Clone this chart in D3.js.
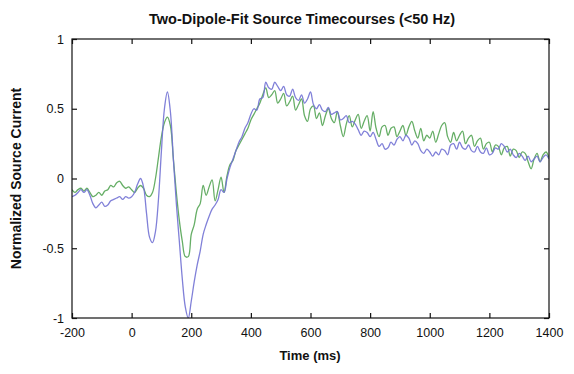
<!DOCTYPE html>
<html><head><meta charset="utf-8">
<script src="https://cdn.jsdelivr.net/npm/d3@7"></script>
<style>body{margin:0;background:#fff}svg{display:block}text{font-family:"Liberation Sans",Arial,sans-serif;fill:#111}</style>
</head><body><svg id="c" width="574" height="374"></svg>
<script>
const title = "Two-Dipole-Fit Source Timecourses (<50 Hz)";
const xLabel = "Time (ms)";
const yLabel = "Normalized Source Current";
const xTicks = [-200, 0, 200, 400, 600, 800, 1000, 1200, 1400];
const yTicks = [-1, -0.5, 0, 0.5, 1];
const yTickLabels = ["-1", "-0.5", "0", "0.5", "1"];
const tStart = -200, tStep = 10;
const blue = [
-0.13,-0.12,-0.10,-0.08,-0.10,-0.08,-0.12,-0.18,-0.21,-0.19,
-0.17,-0.20,-0.19,-0.16,-0.15,-0.14,-0.13,-0.15,-0.13,-0.14,
-0.13,-0.10,-0.04,0.00,-0.06,-0.25,-0.42,-0.46,-0.38,-0.15,
0.20,0.50,0.62,0.48,0.14,-0.18,-0.45,-0.72,-0.92,-1.00,
-0.88,-0.74,-0.62,-0.52,-0.40,-0.33,-0.27,-0.22,-0.19,-0.15,
-0.08,-0.10,0.00,0.08,0.14,0.20,0.26,0.30,0.36,0.40,
0.46,0.50,0.49,0.57,0.58,0.69,0.65,0.64,0.69,0.66,
0.63,0.66,0.60,0.59,0.64,0.58,0.56,0.60,0.54,0.57,
0.62,0.53,0.50,0.53,0.49,0.48,0.51,0.46,0.47,0.48,
0.42,0.43,0.45,0.40,0.41,0.39,0.35,0.31,0.34,0.33,
0.30,0.33,0.28,0.23,0.25,0.21,0.22,0.26,0.24,0.28,
0.30,0.27,0.31,0.29,0.24,0.27,0.25,0.20,0.18,0.21,
0.19,0.16,0.19,0.17,0.21,0.20,0.17,0.24,0.25,0.21,
0.26,0.22,0.21,0.24,0.20,0.19,0.23,0.19,0.18,0.22,
0.17,0.18,0.22,0.21,0.25,0.23,0.19,0.21,0.17,0.15,
0.18,0.16,0.13,0.16,0.12,0.14,0.16,0.12,0.15,0.17,
0.14];
const green = [
-0.08,-0.10,-0.08,-0.07,-0.09,-0.07,-0.10,-0.13,-0.12,-0.10,
-0.12,-0.09,-0.08,-0.05,-0.06,-0.03,-0.02,-0.05,-0.07,-0.06,
-0.08,-0.10,-0.07,-0.05,-0.07,-0.12,-0.13,-0.10,0.00,0.15,
0.30,0.40,0.44,0.38,0.14,-0.10,-0.30,-0.45,-0.56,-0.56,
-0.40,-0.33,-0.22,-0.18,-0.05,-0.12,-0.06,-0.01,-0.16,-0.08,
0.01,-0.10,0.02,0.10,0.13,0.20,0.24,0.28,0.32,0.36,
0.42,0.46,0.50,0.54,0.60,0.65,0.58,0.60,0.63,0.54,
0.57,0.61,0.52,0.55,0.59,0.49,0.53,0.57,0.45,0.41,
0.50,0.52,0.43,0.47,0.38,0.45,0.50,0.43,0.40,0.48,
0.38,0.30,0.39,0.45,0.37,0.42,0.46,0.36,0.41,0.45,
0.34,0.48,0.36,0.30,0.37,0.38,0.31,0.36,0.37,0.30,
0.34,0.38,0.31,0.37,0.41,0.34,0.29,0.36,0.27,0.31,
0.29,0.34,0.26,0.32,0.38,0.40,0.30,0.26,0.33,0.27,
0.31,0.34,0.25,0.29,0.31,0.23,0.27,0.29,0.21,0.25,
0.26,0.19,0.24,0.23,0.17,0.22,0.23,0.16,0.21,0.20,
0.15,0.19,0.18,0.12,0.07,0.14,0.18,0.12,0.17,0.19,
0.15];
const time = d3.range(blue.length).map(i => tStart + i * tStep);

const svg = d3.select("#c");
const m = {l:72, r:25, t:39, b:56};
const W = 574, H = 374;
const x = d3.scaleLinear().domain([-200, 1400]).range([m.l, W - m.r]);
const y = d3.scaleLinear().domain([-1, 1]).range([H - m.b, m.t]);

svg.append("clipPath").attr("id","cp").append("rect")
  .attr("x", m.l).attr("y", m.t).attr("width", W-m.r-m.l).attr("height", H-m.b-m.t);

const line = d3.line().x((d,i)=>x(time[i])).y(d=>y(d)).curve(d3.curveCatmullRom.alpha(0.5));
const g = svg.append("g").attr("clip-path","url(#cp)");
g.append("path").datum(green).attr("d", line).attr("fill","none")
  .attr("stroke","#66ae66").attr("stroke-width",1.3).attr("stroke-linejoin","round");
g.append("path").datum(blue).attr("d", line).attr("fill","none")
  .attr("stroke","#7272d4").attr("stroke-width",1.3).attr("stroke-linejoin","round").attr("opacity",0.9);

// axes (MATLAB style, inward ticks, mirrored)
const tk = 5;
svg.append("rect").attr("x", m.l).attr("y", m.t).attr("width", W-m.r-m.l).attr("height", H-m.b-m.t)
  .attr("fill","none").attr("stroke","#111").attr("stroke-width",1.2);
const fmt = d => String(d);
const xb = svg.append("g").attr("transform",`translate(0,${H-m.b})`)
  .call(d3.axisBottom(x).tickValues(xTicks).tickSize(-tk).tickPadding(10).tickFormat(fmt));
const xt = svg.append("g").attr("transform",`translate(0,${m.t})`)
  .call(d3.axisTop(x).tickValues(xTicks).tickSize(-tk).tickFormat(""));
const yl = svg.append("g").attr("transform",`translate(${m.l},0)`)
  .call(d3.axisLeft(y).tickValues(yTicks).tickSize(-tk).tickPadding(8).tickFormat((d,i)=>yTickLabels[i]));
const yr = svg.append("g").attr("transform",`translate(${W-m.r},0)`)
  .call(d3.axisRight(y).tickValues(yTicks).tickSize(-tk).tickFormat(""));
[xb,xt,yl,yr].forEach(a=>{a.select(".domain").remove();a.selectAll("line").attr("stroke","#111").attr("stroke-width",1.2);
  a.selectAll("text").attr("font-size",12.5).attr("fill","#111").attr("font-family","Liberation Sans, Arial, sans-serif");});

svg.append("text").attr("x", 302).attr("y", 24).attr("text-anchor","middle")
  .attr("font-size",14.5).attr("font-weight","bold").text(title);
svg.append("text").attr("x", 310).attr("y", 360).attr("text-anchor","middle")
  .attr("font-size",13).attr("font-weight","bold").text(xLabel);
svg.append("text").attr("transform",`translate(21,${(m.t + H - m.b)/2}) rotate(-90)`).attr("text-anchor","middle")
  .attr("font-size",14).attr("font-weight","bold").text(yLabel);
</script></body></html>
